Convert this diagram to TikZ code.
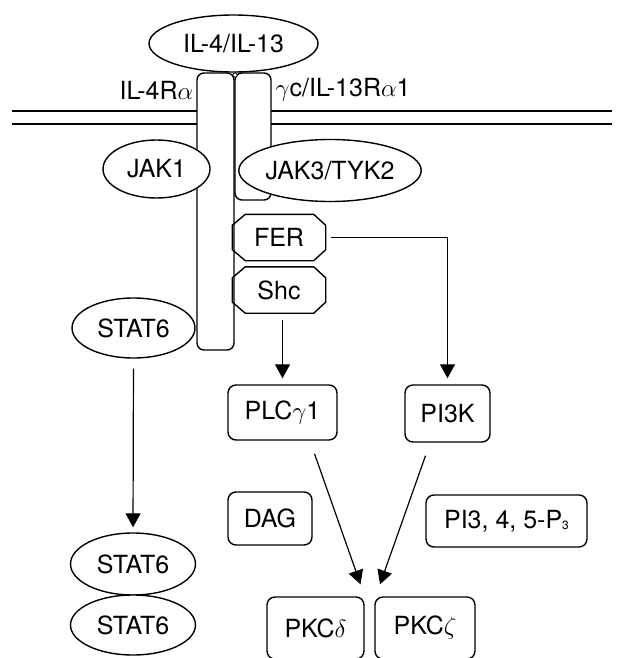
\documentclass[tikz,border=0pt]{standalone}
\usepackage{fontspec}
\setmainfont{TeX Gyre Heros}
\usetikzlibrary{arrows.meta,shapes.geometric}
\definecolor{ink}{HTML}{000000}

\begin{document}
\begin{tikzpicture}[x=1pt,y=-1pt,line width=1.4pt,draw=ink,
  every node/.style={font=\fontsize{25}{28}\selectfont,text=ink,inner sep=0pt},
  oval/.style={draw,fill=white,ellipse},
  box/.style={draw,fill=white,rectangle,rounded corners=8pt},
  chamf/.style={rectangle,minimum width=92pt,minimum height=45pt},
  recep/.style={draw,fill=white,rectangle,rounded corners=7pt},
  arr/.style={-{Triangle[width=15pt,length=14pt]},line width=1.2pt}]
\useasboundingbox (0,0) rectangle (618,658);
\foreach \y in {111,124}{\draw (12,\y)--(197,\y); \draw (271,\y)--(612,\y);}
\node[recep,minimum width=37pt,minimum height=277pt] (r4a) at (215.5,211.5) {};
\node[recep,minimum width=36pt,minimum height=127pt] (rgc) at (253,136.5) {};
\fill[white] (235,75) circle[radius=2.2pt];
\draw[line width=.9pt] (235,75) circle[radius=2.2pt];
\node[oval,minimum width=169pt,minimum height=57pt] (lig) at (233.5,43.5) {IL-4/IL-13};
\node[anchor=east] (l4a) at (194,90) {IL-4R$\alpha$};
\node[anchor=west] (lgc) at (275,90) {$\gamma$c/IL-13R$\alpha$1};
\node[oval,minimum width=107pt,minimum height=58pt] (jak1) at (156.5,169) {JAK1};
\node[oval,minimum width=146pt,minimum height=62pt] (jak3) at (330,170.5) {JAK3/TYK2};
\node[chamf] (fer) at (279,237.5) {FER};
\node[chamf] (shc) at (279,290) {Shc};
\foreach \n in {fer,shc}{
  \draw ([xshift=13pt]\n.north west) -- ([xshift=-12pt]\n.north east) -- ([yshift=-11pt]\n.north east)
    -- ([yshift=11pt]\n.south east) -- ([xshift=-12pt]\n.south east) -- ([xshift=13pt]\n.south west)
    -- ([yshift=11pt]\n.south west) -- ([yshift=-11pt]\n.north west) -- cycle;}
\node[oval,minimum width=123pt,minimum height=60pt] (stat) at (133.5,328) {STAT6};
\node[box,minimum width=109pt,minimum height=55pt] (plc) at (282.5,412.5) {PLC$\gamma$1};
\node[box,minimum width=85pt,minimum height=57pt] (pi3k) at (447.5,413.5) {PI3K};
\node[box,minimum width=84pt,minimum height=53pt] (dag) at (270,518.5) {DAG};
\node[box,minimum width=161pt,minimum height=52pt] (pip) at (506.5,521) {PI3, 4, 5-P\raisebox{-1pt}{\fontsize{12}{12}\selectfont 3}};
\node[oval,minimum width=125pt,minimum height=62pt] (statb) at (133,564) {STAT6};
\node[oval,minimum width=125pt,minimum height=60pt] (statc) at (133,625) {STAT6};
\node[box,minimum width=97pt,minimum height=62pt] (pkcd) at (315.5,628) {PKC$\delta$};
\node[box,minimum width=100pt,minimum height=62pt] (pkcz) at (425,628) {PKC$\zeta$};
\draw[arr,shorten <=5pt,shorten >=6pt] (fer.east) -| (pi3k.north);
\draw[arr,shorten <=7pt,shorten >=6pt] (plc.north |- shc.south) -- (plc.north);
\draw[arr,shorten <=10pt,shorten >=5pt] (stat.south) -- (statb.north);
\draw[arr] ([shift={(32,13)}]plc.south) -- ([shift={(45,-12)}]pkcd.north);
\draw[arr] ([shift={(-22,13)}]pi3k.south) -- ([shift={(-45,-12)}]pkcz.north);
\end{tikzpicture}
\end{document}
